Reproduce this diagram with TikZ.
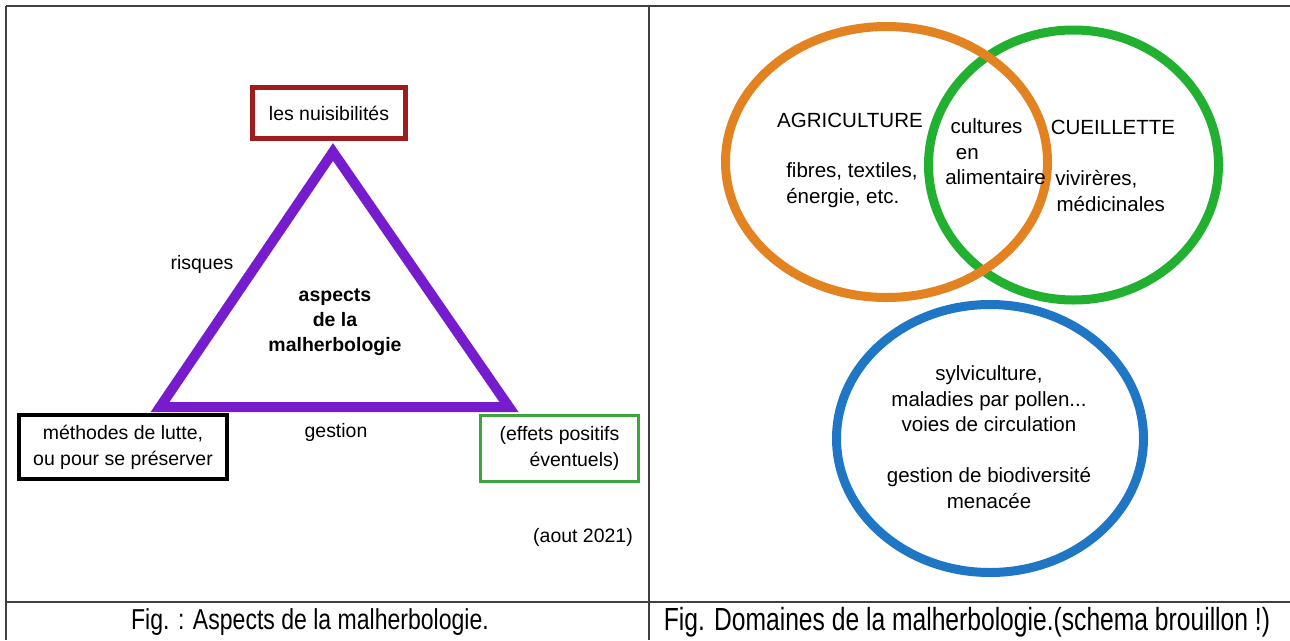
\documentclass[tikz,border=0pt]{standalone}
\usepackage{fontspec}
\setmainfont{Liberation Sans}
\newfontfamily\narrowfont[FakeStretch=0.80]{Liberation Sans}
\newfontfamily\narrowerfont[FakeStretch=0.77]{Liberation Sans}
\usetikzlibrary{shapes,arrows,positioning}

\definecolor{trait}{RGB}{64,64,64}
\definecolor{nuisrouge}{RGB}{160,28,28}
\definecolor{effvert}{RGB}{60,165,60}
\definecolor{tripourpre}{RGB}{118,28,206}
\definecolor{agrorange}{RGB}{226,130,32}
\definecolor{cueilvert}{RGB}{34,176,48}
\definecolor{sylvbleu}{RGB}{30,118,196}

\begin{document}
\begin{tikzpicture}[x=0.75pt,y=-0.75pt]

 \tikzstyle{cadre}=[draw,inner sep=0pt,align=center,
font=\fontsize{14.6}{19.5}\selectfont]
 \tikzstyle{texte}=[inner sep=0pt,align=center,font=\fontsize{14.6}{19.5}\selectfont]
 \tikzstyle{domtexte}=[inner sep=0pt,font=\fontsize{15.4}{19.1}\selectfont]
 \tikzstyle{legende}=[inner sep=0pt,font=\narrowfont\fontsize{21.6}{26}\selectfont]

\useasboundingbox (0,0) rectangle (1290,640);

% Table lines
\draw[line width=1.5pt,trait] (6,5.5) -- (1290,5.5);
\draw[line width=1.5pt,trait] (6,5.5) -- (6,640);
\draw[line width=1.5pt,trait] (649,5.5) -- (649,640);
\draw[line width=1.5pt,trait] (6,602) -- (1290,602);

% Triangle
\coordinate (T_top) at (333,152);
\coordinate (T_left) at (160,407);
\coordinate (T_right) at (509,407);
\draw[tripourpre,line width=7.5pt,line join=miter] (T_top) -- (T_left) -- (T_right) -- cycle;

% Corner boxes
\node[cadre,draw=nuisrouge,line width=3.75pt,minimum width=114.75pt,minimum height=38.25pt] (N_NUIS) at (329,113) {les nuisibilités};
\node[cadre,draw=black,line width=3pt,minimum width=156pt,minimum height=48pt] (N_LUTTE) at (123,447) {méthodes de lutte,\\ou pour se préserver};
\node[cadre,draw=effvert,line width=2.25pt,minimum width=118.5pt,minimum height=49.5pt] (N_EFF) at (559.5,448.5) {(effets positifs\\\hfill éventuels)};

% Labels of the triangle
\node[texte] (risq) at (202,264) {risques};
\node[texte] (gest) at (336,432) {gestion};
\node[texte,font=\bfseries\fontsize{14.6}{18.8}\selectfont] (asp) at (335,322) {aspects\\de la\\malherbologie};
\node[texte] (date) at (583,537) {(aout 2021)};

% Domains
\draw[cueilvert,line width=6.75pt] (1073.5,165) ellipse [x radius=145,y radius=135];
\draw[agrorange,line width=6.75pt] (886.5,162) ellipse [x radius=161,y radius=135.5];
\draw[sylvbleu,line width=6.75pt] (990,438.5) ellipse [x radius=153.5,y radius=134];

\node[domtexte] (agri) at (850,120) {AGRICULTURE};
\node[domtexte,align=left,anchor=west] (agri_t) at (786,185) {fibres, textiles,\\énergie, etc.};
\node[domtexte,align=left,anchor=west] (cult) at (945,152) {\hspace*{4pt}cultures\\\hspace*{8pt}en\\alimentaire};
\node[domtexte] (cueil) at (1113,127) {CUEILLETTE};
\node[domtexte,align=left,anchor=west] (cueil_t) at (1055,191) {vivirères,\\\hspace*{1pt}médicinales};
\node[domtexte,align=center] (sylv) at (989,437) {sylviculture,\\maladies par pollen...\\voies de circulation\\[19.1pt]gestion de biodiversité\\menacée};

% Captions
\node[legende] (cap_l) at (310,622) {Fig. : Aspects de la malherbologie.};
\node[legende,font=\narrowerfont\fontsize{24}{28}\selectfont] (cap_r) at (967,622) {Fig. Domaines de la malherbologie.(schema brouillon !)};

\end{tikzpicture}
\end{document}
